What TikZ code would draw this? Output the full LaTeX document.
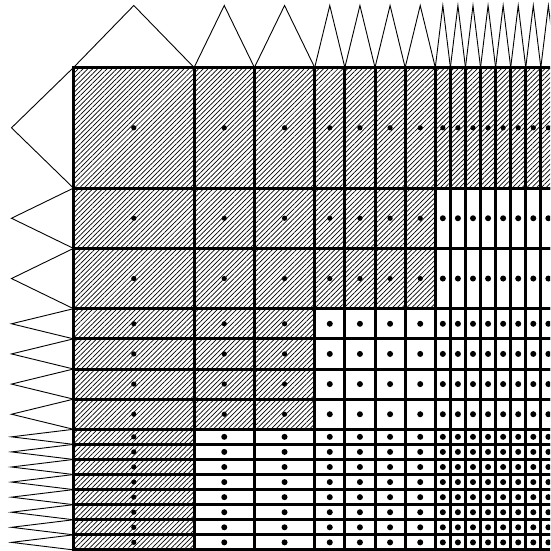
\documentclass[tikz,border=0pt]{standalone}
\usetikzlibrary{patterns.meta}
\begin{document}
\begin{tikzpicture}[x=1pt,y=-1pt,
  cellline/.style={line width=3pt},
  hatchfill/.style={pattern={Lines[angle=45,distance=3.4pt,line width=0.7pt]}},
  tri/.style={line width=0.9pt, line join=miter},
  dotmark/.style={fill=black}]
\useasboundingbox (0,0) rectangle (550,551);
\clip (0,0) rectangle (550,551);
\def\ox{73.5}\def\oy{67.5}\def\U{120.6}\def\H{62}
\def\cells{0/1/0, 1/0.5/1, 1.5/0.5/1, 2/0.25/2, 2.25/0.25/2, 2.5/0.25/2, 2.75/0.25/2, 3/0.125/3, 3.125/0.125/3, 3.25/0.125/3, 3.375/0.125/3, 3.5/0.125/3, 3.625/0.125/3, 3.75/0.125/3, 3.875/0.125/3}
% triangles on top and left
\foreach \cs/\cw/\cl in \cells {
  \draw[tri] ({\ox+\cs*\U},\oy) -- ({\ox+(\cs+\cw/2)*\U},{\oy-\H}) -- ({\ox+(\cs+\cw)*\U},\oy);
  \draw[tri] (\ox,{\oy+\cs*\U}) -- ({\ox-\H},{\oy+(\cs+\cw/2)*\U}) -- (\ox,{\oy+(\cs+\cw)*\U});
}
% fills and dots
\foreach \rs/\rw/\rl in \cells {
  \foreach \cs/\cw/\cl in \cells {
    \pgfmathsetmacro\xa{\ox+\cs*\U}
    \pgfmathsetmacro\xb{\ox+(\cs+\cw)*\U}
    \pgfmathsetmacro\ya{\oy+\rs*\U}
    \pgfmathsetmacro\yb{\oy+(\rs+\rw)*\U}
    \ifnum\numexpr\rl+\cl\relax<4
      \fill[hatchfill] (\xa,\ya) rectangle (\xb,\yb);
      \fill[dotmark] ({(\xa+\xb)/2},{(\ya+\yb)/2}) circle (2.6);
    \else
      \fill[dotmark] ({(\xa+\xb)/2},{(\ya+\yb)/2}) circle (3);
    \fi
  }
}
% grid lines
\foreach \rs/\rw/\rl in \cells {
  \foreach \cs/\cw/\cl in \cells {
    \draw[cellline] ({\ox+\cs*\U},{\oy+\rs*\U}) rectangle ({\ox+(\cs+\cw)*\U},{\oy+(\rs+\rw)*\U});
  }
}
\end{tikzpicture}
\end{document}
